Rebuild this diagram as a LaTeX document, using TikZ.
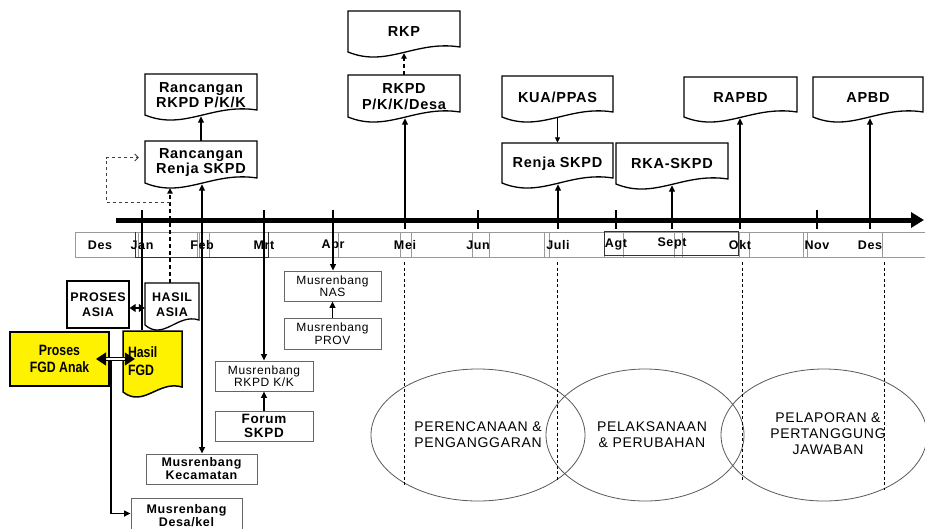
\documentclass[tikz,border=0pt]{standalone}
\usepackage{fontspec}
\setmainfont{Liberation Sans}[LetterSpace=5]
\newfontfamily\narrowfont{Liberation Sans}[FakeStretch=0.82]
\usetikzlibrary{arrows.meta,shapes.geometric}

\tikzset{
  conn/.style={line width=1.4pt, -{Triangle[length=6.5pt,width=6pt]}},
  thinconn/.style={line width=1pt, -{Triangle[length=5.5pt,width=5pt]}},
  dashconn/.style={line width=1.3pt, dash pattern=on 4pt off 3pt, -{Triangle[length=5.5pt,width=5.5pt]}},
  loopdash/.style={line width=0.8pt, draw=black!75, dash pattern=on 3.5pt off 2.5pt, -{Straight Barb[length=3.5pt,width=7pt]}},
  tickline/.style={line width=1.5pt},
  guide/.style={line width=0.6pt, dash pattern=on 3pt off 2.5pt},
  docline/.style={draw=black, line width=1.3pt, fill=white},
  doctext/.style={font=\fontsize{14.5}{15.5}\selectfont\bfseries, align=center, inner sep=0pt},
  mbox/.style={draw=black!60, line width=0.9pt, fill=white, align=center, inner sep=0pt},
  mreg/.style={mbox, font=\fontsize{12}{12.5}\selectfont},
  mbold/.style={mbox, font=\fontsize{12.5}{13}\selectfont\bfseries},
  month/.style={font=\fontsize{12.5}{12.5}\selectfont\bfseries, inner sep=0pt},
  cell/.style={draw=black!40, line width=0.7pt},
  cellk/.style={draw=black!80, line width=0.9pt},
  oval/.style={ellipse, draw=black!65, line width=0.8pt, inner sep=0pt},
  ovaltext/.style={font=\fontsize{14}{16}\selectfont, align=center, inner sep=0pt},
}

% #1 node options, #2 name, #3 x1, #4 y1, #5 x2, #6 y bottom-left, #7 text
\newcommand\docnode[7][]{%
  \path[docline] ({#3},{#6}) -- ({#3},{#4}) -- ({#5},{#4}) -- ({#5},{#6-5})
    .. controls ({#3+0.6*(#5-#3)},{#6-12}) and ({#3+0.35*(#5-#3)},{#6+16}) .. ({#3},{#6}) -- cycle;
  \node[doctext, minimum width={(#5-#3)*1pt}, minimum height={(#6+1-#4)*1pt}, #1] (#2) at ({(#3+#5)/2},{(#4+#6+1)/2}) {#7};
}

\begin{document}
\begin{tikzpicture}[x=1pt,y=-1pt]
\useasboundingbox (0,0) rectangle (925,528);
\fill[white] (0,0) rectangle (925,528);

% ellipses
\node[oval, minimum width=214pt, minimum height=132pt] (e1) at (478,435) {};
\node[oval, minimum width=198pt, minimum height=132pt] (e2) at (645,435) {};
\node[oval, minimum width=206pt, minimum height=132pt] (e3) at (824,435) {};

% guide lines
\foreach \n/\x/\yb in {1/404/486,2/557/480,3/742/480,4/884/490}{
  \coordinate (ga\n) at (\x,262); \coordinate (gb\n) at (\x,\yb);
  \draw[guide] (ga\n) -- (gb\n);
}

\node[ovaltext] (tx1) at (478,435) {PERENCANAAN \&\\PENGANGGARAN};
\node[ovaltext] (tx2) at (652,435) {PELAKSANAAN\\\& PERUBAHAN};
\node[ovaltext] (tx3) at (828,434) {PELAPORAN \&\\PERTANGGUNG\\JAWABAN};

% time band
\draw[cell] (75,232) rectangle (935,257);
\foreach \x in {135,138,197,199,209,263,268,332,338,400,411,472,489,544,549,604,623,674,682,739,749,803,807,882}
  \draw[cell] (\x,232) -- (\x,257);
\draw[cellk] (135,232) -- (135,257) -- (268,257) -- (268,232);
\draw[cellk] (604,231) rectangle (738,255);
\foreach \n/\x/\y/\t in {m0/100/245/Des, m1/142/245/Jan, m2/202/245/Feb, m3/264/245/Mrt, m4/333/245/Apr, m5/405/245/Mei, m6/478/245/Jun, m7/558/245/Juli, m8/616/245/Agt, m9/672/243/Sept, m10/740/245/Okt, m11/817/245/Nov, m12/870/245/Des}
  \node[month] (\n) at (\x,\y) {\t};

% main time axis
\coordinate (bs) at (116,220);
\coordinate (be) at (924,220);
\draw[line width=5pt, -{Triangle[length=13pt,width=15pt]}] (bs) -- (be);
\foreach \n/\x in {1/142,2/202,3/264,4/333,5/405,6/478,7/558,8/616,9/672,10/740,11/817,12/870}{
  \coordinate (t\n) at (\x,210); \coordinate (b\n) at (\x,229);
  \draw[tickline] (t\n) -- (b\n);
}

% document boxes
\docnode{rrkpd}{145}{74}{257}{115}{Rancangan\\RKPD P/K/K}
\docnode{rrenja}{145}{141}{257}{183}{Rancangan\\Renja SKPD}
\docnode{rkp}{348}{11}{460}{52}{RKP}
\docnode{rkpd}{348}{75}{460}{117}{RKPD\\P/K/K/Desa}
\docnode{kua}{502}{76}{613}{117}{KUA/PPAS}
\docnode{renja}{502}{143}{613}{183}{Renja SKPD}
\docnode{rka}{616}{143}{728}{184}{RKA-SKPD}
\docnode{rapbd}{684}{77}{797}{117}{RAPBD}
\docnode{apbd}{813}{77}{923}{117}{APBD}
\docnode[font=\fontsize{12.5}{14.5}\selectfont\bfseries]{hasilasia}{145}{283}{199}{325}{HASIL\\ASIA}

% ASIA / FGD boxes
\node[draw=black, line width=1.3pt, fill=white, minimum width=62pt, minimum height=47pt,
      font=\fontsize{12.5}{14.5}\selectfont\bfseries, align=center, inner sep=0pt] (prosesasia) at (98,304.5) {PROSES\\ASIA};
\node[draw=black, line width=2pt, fill=yellow, minimum width=99pt, minimum height=54pt,
      font={\narrowfont\bfseries\fontsize{15}{17}\selectfont}, align=center, inner sep=0pt] (prosesfgd) at (59.5,359) {Proses\\FGD Anak};
\path[docline, fill=yellow, line width=1.5pt] (123,392) -- (123,331) -- (182,331) -- (182,387)
   .. controls ({123+0.6*59},380) and ({123+0.35*59},408) .. (123,392) -- cycle;
\node[font={\narrowfont\bfseries\fontsize{15}{18}\selectfont}, align=left, inner sep=0pt,
      minimum width=59pt, minimum height=62pt, text width=49pt] (hasilfgd) at (152.5,361.5) {Hasil\\FGD};

% Musrenbang boxes
\node[mreg, minimum width=97pt, minimum height=30pt] (nas) at (332.5,286) {Musrenbang\\NAS};
\node[mreg, minimum width=97pt, minimum height=31pt] (prov) at (332.5,333.5) {Musrenbang\\PROV};
\node[mreg, minimum width=98pt, minimum height=30pt] (rkpdkk) at (264,376) {Musrenbang\\RKPD K/K};
\node[mbold, minimum width=98pt, minimum height=30pt, font=\fontsize{13.5}{13.5}\selectfont\bfseries] (forum) at (264,426) {Forum\\SKPD};
\node[mbold, minimum width=111pt, minimum height=30pt] (kec) at (201.5,469) {Musrenbang\\Kecamatan};
\node[mbold, minimum width=111pt, minimum height=35pt] (desa) at (186.5,515.5) {Musrenbang\\Desa/kel};

% connectors
\draw[conn] (b2) -- (b2 |- rrenja.south);
\draw[conn] (t2) -- (t2 |- kec.north);
\draw[conn] (rrenja.north) -- (rrkpd.south);
\draw[line width=1.4pt] (t1) -- (t1 |- hasilfgd.north);
\draw[conn] (t3) -- (t3 |- rkpdkk.north);
\draw[conn] (t4) -- (t4 |- nas.north);
\draw[conn] (prov.north) -- (nas.south);
\draw[conn] (forum.north) -- (rkpdkk.south);
\draw[conn] (b5) -- (b5 |- rkpd.south);
\draw[dashconn] (rkpd.north) -- (rkp.south);
\draw[thinconn] (kua.south) -- (renja.north);
\draw[conn] (b7) -- (b7 |- renja.south);
\draw[conn] (b9) -- (b9 |- rka.south);
\draw[conn] (b10) -- (b10 |- rapbd.south);
\draw[conn] (b12) -- (b12 |- apbd.south);

\coordinate (dj) at (170,202);
\draw[dashconn] (dj |- hasilasia.north) -- ([yshift=-4pt]dj |- rrenja.south);
\draw[loopdash] (dj) -- ++(-64,0) |- ([xshift=-6pt,yshift=5pt]rrenja.west);

\draw[line width=1.3pt, {Triangle[length=6pt,width=8pt]}-{Triangle[length=6pt,width=8pt]}]
  ([yshift=-3.5pt]prosesasia.east) -- ([yshift=-3.5pt]prosesasia.east -| hasilasia.west);
\draw[double=white, double distance=2.5pt, line width=1.2pt, {Triangle[length=10pt,width=13pt]}-{Triangle[length=10pt,width=13pt]}]
  ([xshift=-14pt]prosesfgd.east) -- ([xshift=12pt]prosesfgd.east -| hasilfgd.west);

\coordinate (fj) at (111,360);
\draw[conn] (fj) |- ([yshift=2pt]desa.west);
\end{tikzpicture}
\end{document}
